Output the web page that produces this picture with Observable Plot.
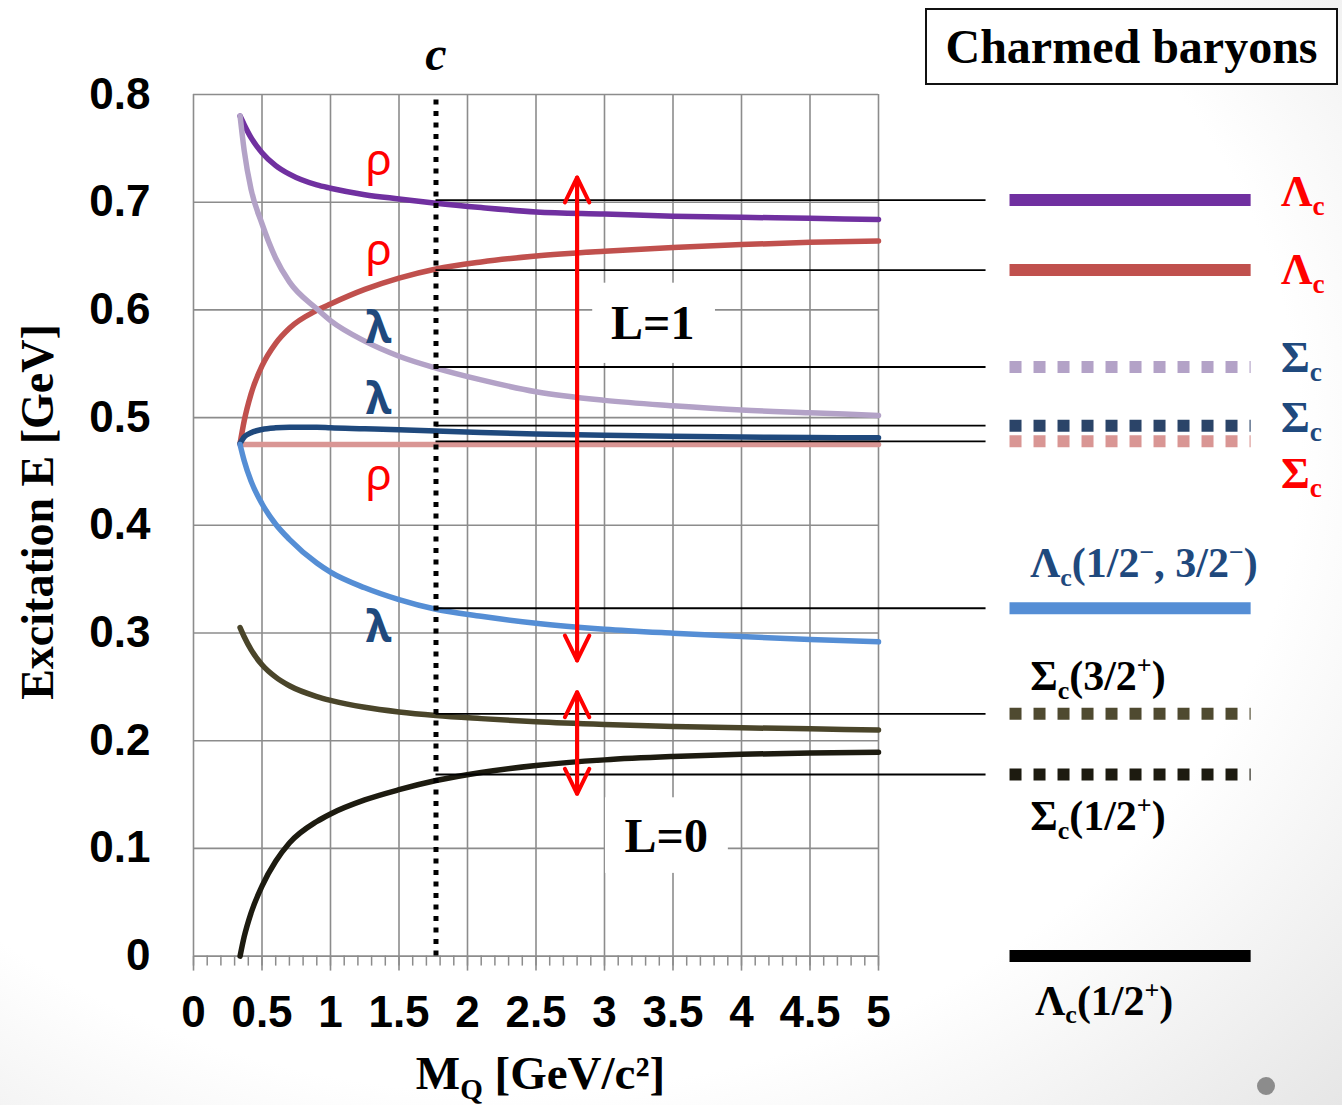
<!DOCTYPE html>
<html>
<head>
<meta charset="utf-8">
<script src="https://cdn.jsdelivr.net/npm/d3@7"></script>
<script src="https://cdn.jsdelivr.net/npm/@observablehq/plot@0.6"></script>
<style>
  html, body { margin:0; padding:0; }
  body { width:1342px; height:1105px; position:relative; overflow:hidden;
    background: radial-gradient(ellipse 95% 95% at 38% 40%, #ffffff 62%, #dedede 100%); }
  #chart { position:absolute; left:0; top:0; }
  #title { position:absolute; left:925px; top:8px; width:413px; height:77px; box-sizing:border-box;
    border:2px solid #111; background:#fff; text-align:center; line-height:73px;
    font-family:"Liberation Serif", serif; font-weight:bold; font-size:48px; color:#000; }
  #dot { position:absolute; left:1257px; top:1077px; width:18px; height:18px; border-radius:50%; background:#8c8c8c; }
</style>
</head>
<body>
<div id="chart"></div>
<div id="title">Charmed baryons</div>
<div id="dot"></div>
<script>
// ---------- data ----------
const massQ = [0.34, 0.37, 0.42, 0.5, 0.6, 0.7, 0.9, 1.0, 1.25, 1.5, 1.77, 2.1, 2.5, 3.0, 3.5, 4.0, 4.5, 5.0];
// L=1 curves
const lambdaC_rhoUpper   = [0.780,0.772,0.760,0.746,0.734,0.726,0.716,0.713,0.707,0.703,0.699,0.695,0.691,0.689,0.687,0.686,0.685,0.684];
const lambdaC_rhoLower   = [0.476,0.497,0.522,0.548,0.569,0.583,0.5995,0.6055,0.619,0.6295,0.638,0.6445,0.650,0.6545,0.658,0.6607,0.6627,0.664];
const sigmaC_lambdaUpper = [0.780,0.748,0.712,0.680,0.648,0.626,0.601,0.590,0.571,0.557,0.546,0.535,0.524,0.516,0.511,0.507,0.5045,0.502];
const sigmaC_lambdaLower = [0.476,0.482,0.486,0.489,0.4905,0.491,0.491,0.4905,0.4897,0.4888,0.4876,0.4862,0.4848,0.4835,0.4826,0.482,0.4815,0.4812];
const sigmaC_rho         = [0.475,0.475,0.475,0.475,0.475,0.475,0.475,0.475,0.475,0.475,0.475,0.475,0.475,0.475,0.475,0.475,0.475,0.475];
const lambdaC_lambda     = [0.475,0.460,0.441,0.420,0.401,0.387,0.365,0.3565,0.342,0.331,0.322,0.3155,0.309,0.3035,0.2998,0.2967,0.294,0.2918];
// L=0 curves
const sigmaC_L0  = [0.305,0.2965,0.2845,0.2705,0.259,0.251,0.241,0.2375,0.231,0.2267,0.2234,0.2205,0.2175,0.215,0.2132,0.212,0.211,0.210];
const lambdaC_L0 = [0.000,0.018,0.040,0.065,0.088,0.105,0.125,0.132,0.145,0.1545,0.163,0.1705,0.177,0.1822,0.1853,0.1874,0.1886,0.1893];

// charm quark mass marker
const charmMass = 1.77;

// experimental levels (right side)
const levelNames    = ["Λ_c", "Λ_c", "Σ_c", "Σ_c", "Σ_c", "Λ_c(1/2^−, 3/2^−)", "Σ_c(3/2^+)", "Σ_c(1/2^+)", "Λ_c(1/2^+)"];
const levelEnergies = [0.702, 0.637, 0.547, 0.4925, 0.478, 0.323, 0.225, 0.1686, 0.0];

// L gaps (arrows)
const gapL1 = [0.2745, 0.723];
const gapL0 = [0.1507, 0.245];

// tick values
const ticksMajorX = d3.range(0, 11).map(i => i / 2);
const ticksMinorX = d3.range(0, 51).map(i => i / 10);
const ticksY = d3.range(0, 9).map(i => i / 10);

// ---------- styling / layout ----------
const curveStyles = [
  {values: lambdaC_rhoUpper,   color: "#7030A0"},
  {values: lambdaC_rhoLower,   color: "#C0504D"},
  {values: sigmaC_lambdaUpper, color: "#B3A2C7"},
  {values: sigmaC_rho,         color: "#D99694"},
  {values: sigmaC_lambdaLower, color: "#1F497D"},
  {values: lambdaC_lambda,     color: "#558ED5"},
  {values: sigmaC_L0,          color: "#4A452A"},
  {values: lambdaC_L0,         color: "#1D1B10"}
];
const levelColors = ["#7030A0", "#C0504D", "#B3A2C7", "#2B4468", "#D99694", "#558ED5", "#4F4A30", "#1D1B10", "#000000"];
const levelDotted = [false, false, true, true, true, false, true, true, false];
const levelLabelColors = ["#FF0000", "#FF0000", "#1F497D", "#1F497D", "#FF0000", "#1F497D", "#000000", "#000000", "#000000"];
// label anchor positions (data units) for level labels
const levelLabelPos = [
  [7.938, 0.7097], [7.938, 0.6367], [7.938, 0.5555], [7.938, 0.4998], [7.938, 0.4477],
  [6.107, 0.3642], [6.107, 0.2592], [6.107, 0.1293], [6.144, -0.0422]
];
const leaderEnd = 5.785, barStart = 5.96, barEnd = 7.72;

const modeLabels = [
  {t: "ρ", m: 1.352, e: 0.7387, c: "#FF0000", w: "normal"},
  {t: "ρ", m: 1.352, e: 0.6545, c: "#FF0000", w: "normal"},
  {t: "λ", m: 1.352, e: 0.5826, c: "#1F497D", w: "bold"},
  {t: "λ", m: 1.352, e: 0.5163, c: "#1F497D", w: "bold"},
  {t: "ρ", m: 1.352, e: 0.4456, c: "#FF0000", w: "normal"},
  {t: "λ", m: 1.352, e: 0.3051, c: "#1F497D", w: "bold"}
];
const gapLabels = [
  {t: "L=1", m: 3.352, e: 0.5874, box: [2.914, 3.81, 0.5503, 0.6248]},
  {t: "L=0", m: 3.451, e: 0.1108, box: [3.007, 3.904, 0.0768, 0.147]}
];
const arrowX = 2.8;

const serif = "Liberation Serif, Times New Roman, serif";
const sans = "Liberation Sans, Arial, sans-serif";
const gridColor = "#8C8C8C";

const levels = levelNames.map((name, i) => ({
  name, e: levelEnergies[i], color: levelColors[i], dotted: levelDotted[i],
  lc: levelLabelColors[i], lx: levelLabelPos[i][0], ly: levelLabelPos[i][1]
}));

const arrows = [
  {y1: gapL1[0], y2: gapL1[1]}, {y1: gapL1[1], y2: gapL1[0]},
  {y1: gapL0[0], y2: gapL0[1]}, {y1: gapL0[1], y2: gapL0[0]}
];

const svg = Plot.plot({
  width: 1342,
  height: 1105,
  marginLeft: 193,
  marginRight: 464,
  marginTop: 94,
  marginBottom: 149.4,
  x: {domain: [0, 5], label: null},
  y: {domain: [0, 0.8], label: null},
  color: {type: "identity"},
  style: {background: "transparent", overflow: "visible"},
  marks: [
    Plot.gridX(ticksMajorX, {stroke: gridColor, strokeOpacity: 1, strokeWidth: 1.6}),
    Plot.gridY(ticksY, {stroke: gridColor, strokeOpacity: 1, strokeWidth: 1.6}),
    Plot.axisX(ticksMinorX, {tickSize: 10, stroke: gridColor, strokeWidth: 1.5, fill: "none", label: null}),
    Plot.axisX(ticksMajorX, {tickSize: 15, tickPadding: 25, stroke: gridColor, strokeWidth: 1.6, fill: "#000",
      fontSize: 44, fontWeight: "bold", fontFamily: sans, label: null, tickFormat: d => String(d)}),
    Plot.axisY(ticksY, {tickSize: 0, tickPadding: 43, fill: "#000", fontSize: 44, fontWeight: "bold",
      fontFamily: sans, label: null, tickFormat: d => d === 0 ? "0" : d.toFixed(1)}),
    // white text boxes for L labels
    Plot.rect(gapLabels, {x1: d => d.box[0], x2: d => d.box[1], y1: d => d.box[2], y2: d => d.box[3], fill: "#fff"}),
    // model curves
    ...curveStyles.map(c => Plot.line(massQ.map((m, i) => ({m, e: c.values[i]})),
      {x: "m", y: "e", stroke: c.color, strokeWidth: 5.5, curve: "monotone-x"})),
    // charm mass line
    Plot.ruleX([charmMass], {y1: 0, y2: 0.8, stroke: "#000", strokeWidth: 5, strokeDasharray: "5,6.5"}),
    // leader lines
    Plot.ruleY(levels.filter(d => d.e > 0), {y: "e", x1: charmMass, x2: leaderEnd, stroke: "#000", strokeWidth: 1.8}),
    // level bars
    Plot.ruleY(levels.filter(d => !d.dotted), {y: "e", x1: barStart, x2: barEnd, stroke: "color", strokeWidth: 12}),
    Plot.ruleY(levels.filter(d => d.dotted), {y: "e", x1: barStart, x2: barEnd, stroke: "color", strokeWidth: 12, strokeDasharray: "12,12"}),
    // arrows
    Plot.arrow(arrows, {x1: arrowX, x2: arrowX, y1: "y1", y2: "y2", stroke: "#FF0000", strokeWidth: 4, headAngle: 52, headLength: 10.4}),
    // texts
    Plot.text(modeLabels.filter(d => d.w === "normal"), {x: "m", y: "e", text: "t", fill: "c", fontSize: 44, fontFamily: "Noto Sans, DejaVu Sans, sans-serif"}),
    Plot.text(modeLabels.filter(d => d.w === "bold"), {x: "m", y: "e", text: "t", fill: "c", fontSize: 44, fontWeight: "bold", fontFamily: "Noto Sans, DejaVu Sans, sans-serif"}),
    Plot.text(gapLabels, {x: "m", y: "e", text: "t", fill: "#000", fontSize: 48, fontWeight: "bold", fontFamily: serif}),
    Plot.text(levels, {x: "lx", y: "ly", text: "name", fill: "lc", fontSize: d => d.lx > 7 ? 44 : 42, fontWeight: "bold",
      fontFamily: serif, textAnchor: "start"}),
    Plot.text(["c"], {x: charmMass, frameAnchor: "top", lineAnchor: "middle", dy: -39.4, fontSize: 48, fontStyle: "italic", fontWeight: "bold", fontFamily: serif, fill: "#000"}),
    Plot.text(["Excitation E [GeV]"], {frameAnchor: "left", textAnchor: "middle", lineAnchor: "middle", dx: -155.7, dy: -13.3, rotate: -90, fontSize: 46, fontWeight: "bold", fontFamily: serif, fill: "#000"}),
    Plot.text(["M_Q [GeV/c²]"], {frameAnchor: "bottom", lineAnchor: "middle", dx: 4.5, dy: 118, fontSize: 47, fontWeight: "bold", fontFamily: serif, fill: "#000"})
  ]
});

document.getElementById("chart").appendChild(svg);

// sub/superscript markup: _x -> subscript, ^x -> superscript
d3.select(svg).selectAll("text").each(function() {
  if (this.querySelector("tspan")) return;
  const raw = this.textContent;
  if (!/[_^]/.test(raw)) return;
  const fs = parseFloat(getComputedStyle(this).fontSize) || 40;
  this.textContent = "";
  let shift = 0;
  const re = /([_^])(.)|([^_^]+)/g;
  let m;
  while ((m = re.exec(raw))) {
    const ts = document.createElementNS("http://www.w3.org/2000/svg", "tspan");
    if (m[3] !== undefined) {
      ts.textContent = m[3];
      if (shift) ts.setAttribute("dy", -shift);
      shift = 0;
    } else {
      const target = m[1] === "_" ? 0.2 * fs : -0.38 * fs;
      ts.textContent = m[2];
      ts.setAttribute("font-size", (fs * 0.62).toFixed(1));
      ts.setAttribute("dy", (target - shift).toFixed(2));
      shift = target;
    }
    this.appendChild(ts);
  }
});
</script>
</body>
</html>
